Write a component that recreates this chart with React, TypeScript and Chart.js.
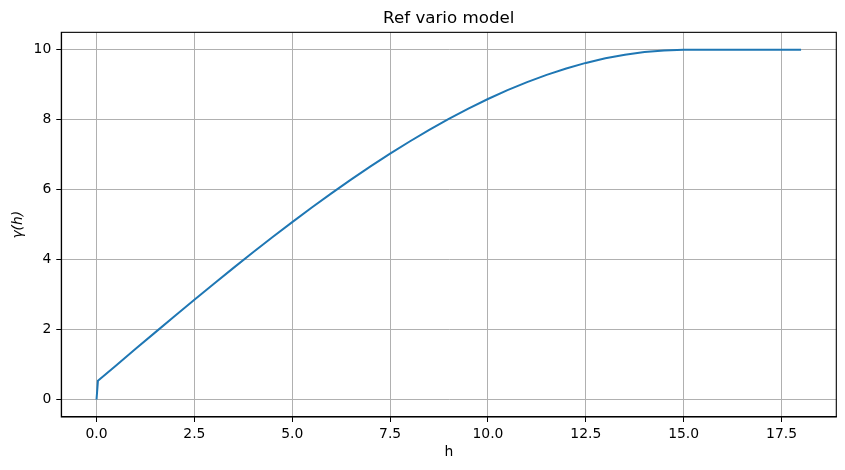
import React, { useEffect, useRef } from "react";
import { Chart, registerables } from "chart.js";

Chart.register(...registerables);

// Lag distances h and variogram values
const lagH: number[] = [
  0, 0.036, 0.5, 1, 1.5, 2, 2.5, 3, 3.5, 4, 4.5, 5, 5.5, 6, 6.5, 7, 7.5, 8, 8.5,
  9, 9.5, 10, 10.5, 11, 11.5, 12, 12.5, 13, 13.5, 14, 14.5, 15, 16, 17, 18,
];
const gammaVals: number[] = [
  0, 0.534, 0.975, 1.449, 1.92, 2.389, 2.853, 3.312, 3.765, 4.21, 4.647, 5.074,
  5.491, 5.896, 6.289, 6.667, 7.031, 7.379, 7.711, 8.024, 8.318, 8.593, 8.846,
  9.077, 9.285, 9.468, 9.626, 9.758, 9.862, 9.938, 9.984, 10, 10, 10, 10,
];
const xTicks: number[] = [0, 2.5, 5, 7.5, 10, 12.5, 15, 17.5];
const yTicks: number[] = [0, 2, 4, 6, 8, 10];

const titleText = "Ref vario model";
const xLabel = "h";
const yLabel = "γ(h)";

const FONT = "'DejaVu Sans', sans-serif";

export default function App() {
  const ref = useRef<HTMLCanvasElement | null>(null);

  useEffect(() => {
    if (!ref.current) return;
    const boxPlugin = {
      id: "boxPlugin",
      afterDraw(chart: any) {
        const { ctx, chartArea } = chart;
        ctx.save();
        ctx.strokeStyle = "#000";
        ctx.lineWidth = 1.1;
        ctx.strokeRect(
          chartArea.left,
          chartArea.top,
          chartArea.right - chartArea.left,
          chartArea.bottom - chartArea.top
        );
        ctx.restore();
      },
    };
    const chart = new Chart(ref.current, {
      type: "line",
      data: {
        datasets: [
          {
            data: lagH.map((h, i) => ({ x: h, y: gammaVals[i] })),
            borderColor: "#1f77b4",
            borderWidth: 2,
            pointRadius: 0,
            fill: false,
            tension: 0,
          },
        ],
      },
      options: {
        animation: false,
        responsive: false,
        devicePixelRatio: 1,
        layout: { padding: { top: 0, right: 8.7, bottom: 0, left: 0 } },
        plugins: {
          legend: { display: false },
          tooltip: { enabled: false },
          title: {
            display: true,
            fullSize: false,
            text: titleText,
            color: "#000",
            font: { family: FONT, size: 16.7, weight: "normal" },
            padding: { top: 8.2, bottom: 4.1 },
          },
        },
        scales: {
          x: {
            type: "linear",
            min: -0.9,
            max: 18.9,
            afterBuildTicks: (scale: any) => {
              scale.ticks = xTicks.map((v) => ({ value: v }));
            },
            afterFit: (scale: any) => {
              scale.height = 53;
            },
            ticks: {
              includeBounds: false,
              color: "#000",
              font: { family: FONT, size: 13.9 },
              padding: 4,
              maxRotation: 0,
              callback: (v: any) => Number(v).toFixed(1),
            },
            grid: {
              color: "#b0b0b0",
              lineWidth: 1,
              tickColor: "#000",
              tickLength: 5,
            },
            border: { color: "#000", width: 1.1 },
            title: {
              display: true,
              text: xLabel,
              color: "#000",
              font: { family: FONT, size: 13.9 },
              padding: { top: 0, bottom: 8.8 },
            },
          },
          y: {
            type: "linear",
            min: -0.5,
            max: 10.5,
            afterBuildTicks: (scale: any) => {
              scale.ticks = yTicks.map((v) => ({ value: v }));
            },
            afterFit: (scale: any) => {
              scale.width = 61.3;
            },
            ticks: {
              includeBounds: false,
              color: "#000",
              font: { family: FONT, size: 13.9 },
              padding: 5,
              callback: (v: any) => String(v),
            },
            grid: {
              color: "#b0b0b0",
              lineWidth: 1,
              tickColor: "#000",
              tickLength: 5,
            },
            border: { color: "#000", width: 1.1 },
            title: {
              display: true,
              text: yLabel,
              color: "#000",
              font: { family: FONT, size: 13.9, style: "italic" },
              padding: { top: 10, bottom: 0 },
            },
          },
        },
      },
      plugins: [boxPlugin],
    } as any);
    return () => chart.destroy();
  }, []);

  return (
    <div style={{ position: "fixed", left: 0, top: 0, width: 845, height: 470, background: "#fff" }}>
      <canvas ref={ref} width={845} height={470} style={{ width: 845, height: 470 }} />
    </div>
  );
}
